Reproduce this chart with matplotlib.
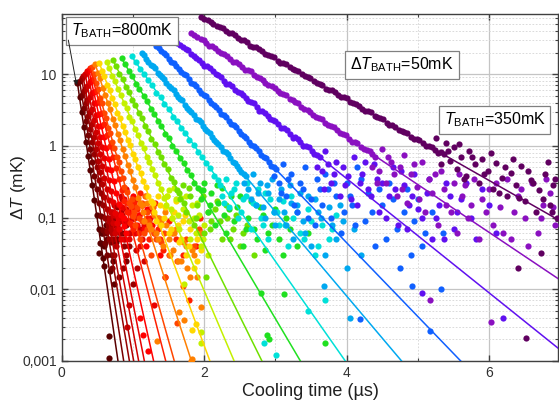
import matplotlib
matplotlib.use('Agg')
import matplotlib.pyplot as plt
from matplotlib.ticker import MultipleLocator, LogLocator, NullFormatter

plt.rcParams['font.family'] = ['Liberation Sans', 'DejaVu Sans']
plt.rcParams['mathtext.fontset'] = 'custom'
plt.rcParams['mathtext.rm'] = 'Liberation Sans'
plt.rcParams['mathtext.it'] = 'Liberation Sans:italic'

# one colour per bath temperature, hottest (dark red) to coldest (dark purple)
colors = ['#5a0000', '#780000', '#960000', '#b40000', '#d00000', '#e80000',
          '#ff0000', '#ff1e00', '#ff4600', '#ff8000', '#ffd800', '#c4f000',
          '#70e000', '#20e020', '#00e0d8', '#00a8f0', '#1060ff', '#6010f0',
          '#8a10c0', '#600060']

# measured cooling curves: time (us) and temperature excess (mK)
t_00 = [0.22, 0.25, 0.28, 0.31, 0.34, 0.37, 0.40, 0.43, 0.46, 0.49, 0.52, 0.55, 0.58,
        0.525, 0.54, 0.56, 0.60, 0.62, 0.665, 0.66, 0.70, 0.74, 0.78,
        0.57, 0.59, 0.63, 0.68, 0.72]
dT_00 = [7.6, 4.8, 2.95, 1.86, 1.15, 0.72, 0.46, 0.28, 0.178, 0.11, 0.069, 0.044, 0.027,
         0.032, 0.044, 0.06, 0.021, 0.08, 0.0022, 0.0011, 0.03, 0.012, 0.05,
         0.06, 0.04, 0.05, 0.018, 0.025]

t_01 = [0.25, 0.28, 0.31, 0.34, 0.37, 0.40, 0.43, 0.46, 0.49, 0.52, 0.55, 0.58, 0.61,
        0.64, 0.67, 0.70, 0.73, 0.76, 0.80, 0.85, 0.90,
        0.62, 0.65, 0.69, 0.72, 0.78, 0.82]
dT_01 = [8.1, 5.2, 3.4, 2.2, 1.41, 0.91, 0.59, 0.38, 0.25, 0.162, 0.105, 0.068, 0.044,
         0.03, 0.07, 0.02, 0.1, 0.045, 0.015, 0.06, 0.025,
         0.06, 0.1, 0.045, 0.08, 0.05, 0.09]

t_02 = [0.28, 0.31, 0.34, 0.37, 0.40, 0.43, 0.46, 0.49, 0.52, 0.55, 0.58, 0.61, 0.64,
        0.67, 0.70, 0.74, 0.78, 0.82, 0.86, 0.90, 0.95, 1.00,
        0.66, 0.69, 0.72, 0.76, 0.80, 0.84, 0.88]
dT_02 = [8.7, 5.8, 3.9, 2.6, 1.7, 1.12, 0.76, 0.50, 0.33, 0.22, 0.148, 0.098, 0.065,
         0.05, 0.09, 0.03, 0.14, 0.06, 0.02, 0.08, 0.04, 0.012,
         0.08, 0.12, 0.05, 0.1, 0.07, 0.11, 0.04]

t_03 = [0.30, 0.33, 0.36, 0.39, 0.42, 0.45, 0.48, 0.51, 0.54, 0.57, 0.60, 0.63, 0.66,
        0.69, 0.72, 0.76, 0.80, 0.85, 0.90, 0.95, 1.00, 1.05,
        0.68, 0.71, 0.74, 0.78, 0.83, 0.88, 0.93]
dT_03 = [9.3, 6.3, 4.3, 2.95, 2.0, 1.35, 0.91, 0.62, 0.43, 0.29, 0.195, 0.132, 0.089,
         0.07, 0.12, 0.04, 0.09, 0.18, 0.03, 0.06, 0.1, 0.02,
         0.1, 0.06, 0.15, 0.08, 0.12, 0.05, 0.09]

t_04 = [0.33, 0.36, 0.39, 0.42, 0.45, 0.48, 0.51, 0.54, 0.57, 0.60, 0.63, 0.66, 0.69, 0.72,
        0.75, 0.79, 0.83, 0.88, 0.93, 0.98, 1.04, 1.10, 1.15, 0.91, 0.95,
        0.74, 0.77, 0.81, 0.86, 0.90, 0.96, 1.01]
dT_04 = [10.0, 6.9, 4.8, 3.3, 2.3, 1.58, 1.1, 0.76, 0.52, 0.36, 0.25, 0.174, 0.12, 0.083,
         0.06, 0.11, 0.2, 0.05, 0.09, 0.15, 0.035, 0.07, 0.025, 0.003, 0.006,
         0.11, 0.07, 0.15, 0.09, 0.13, 0.06, 0.1]

t_05 = [0.36, 0.39, 0.42, 0.45, 0.48, 0.51, 0.54, 0.57, 0.60, 0.63, 0.66, 0.69, 0.72, 0.75, 0.78,
        0.81, 0.85, 0.90, 0.95, 1.00, 1.05, 1.10, 1.16, 1.22, 1.30,
        0.80, 0.83, 0.88, 0.92, 0.98, 1.03, 1.08, 1.13]
dT_05 = [11.0, 7.8, 5.5, 3.9, 2.7, 1.9, 1.35, 0.95, 0.68, 0.48, 0.33, 0.235, 0.166, 0.117, 0.083,
         0.07, 0.14, 0.25, 0.05, 0.1, 0.18, 0.04, 0.08, 0.13, 0.006,
         0.1, 0.05, 0.18, 0.09, 0.14, 0.06, 0.11, 0.05]

t_06 = [0.38, 0.415, 0.45, 0.485, 0.52, 0.555, 0.59, 0.625, 0.66, 0.695, 0.73, 0.765, 0.80,
        0.835, 0.87, 0.90, 0.95, 1.00, 1.06, 1.12, 1.18, 1.24, 1.30, 1.38, 1.45,
        1.10, 1.14, 1.21, 1.88, 1.92,
        0.88, 0.93, 0.98, 1.03, 1.09, 1.15, 1.20, 1.27]
dT_06 = [11.5, 7.9, 5.6, 3.9, 2.75, 1.9, 1.32, 0.93, 0.65, 0.46, 0.32, 0.22, 0.155,
         0.107, 0.076, 0.06, 0.12, 0.2, 0.08, 0.15, 0.04, 0.1, 0.06, 0.03, 0.015,
         0.004, 0.0023, 0.0014, 0.04, 0.065,
         0.1, 0.16, 0.08, 0.13, 0.11, 0.07, 0.13, 0.08]

t_07 = [0.40, 0.44, 0.48, 0.52, 0.56, 0.60, 0.64, 0.68, 0.72, 0.76, 0.80, 0.84, 0.88, 0.92, 0.96,
        1.00, 1.05, 1.10, 1.16, 1.22, 1.28, 1.35, 1.42, 1.50, 1.60, 1.70, 1.79, 1.94,
        0.98, 1.02, 1.08, 1.13, 1.19, 1.25, 1.31, 1.38]
dT_07 = [12.0, 8.5, 5.9, 4.2, 2.9, 2.0, 1.41, 1.0, 0.71, 0.49, 0.35, 0.24, 0.17, 0.12, 0.083,
         0.07, 0.13, 0.22, 0.09, 0.05, 0.12, 0.07, 0.035, 0.09, 0.05, 0.03, 0.007, 0.1,
         0.11, 0.16, 0.06, 0.15, 0.1, 0.07, 0.16, 0.05]

t_08 = [0.42, 0.45, 0.48, 0.51, 0.54, 0.57, 0.59, 0.62, 0.65, 0.68, 0.71, 0.74, 0.77, 0.80,
        0.83, 0.86, 0.88, 0.91, 0.94, 0.97, 1.00,
        1.03, 1.06, 1.10, 1.13, 1.17, 1.20, 1.25, 1.30, 1.35, 1.40, 1.45, 1.50, 1.55, 1.62,
        1.70, 1.75, 1.85, 1.93, 1.62,
        0.99, 1.02, 1.08, 1.12, 1.15, 1.19, 1.23, 1.28, 1.33, 1.38, 1.43]
dT_08 = [12.6, 10.2, 7.6, 6.3, 4.7, 3.9, 2.9, 2.45, 1.8, 1.52, 1.12, 0.93, 0.7, 0.6,
         0.44, 0.36, 0.27, 0.23, 0.16, 0.145, 0.105,
         0.08, 0.14, 0.05, 0.09, 0.2, 0.07, 0.03, 0.06, 0.1, 0.045, 0.015, 0.03, 0.06, 0.025,
         0.011, 0.05, 0.04, 0.07, 0.0034,
         0.18, 0.12, 0.1, 0.16, 0.06, 0.12, 0.09, 0.14, 0.05, 0.08, 0.06]

t_09 = [0.47, 0.505, 0.54, 0.575, 0.61, 0.645, 0.68, 0.715, 0.75, 0.785, 0.82, 0.855, 0.89,
        0.925, 0.96, 0.995, 1.03, 1.065, 1.10,
        1.14, 1.18, 1.22, 1.27, 1.32, 1.37, 1.42, 1.47, 1.52, 1.58, 1.63, 1.70, 1.76, 1.83,
        1.90, 1.95, 1.81, 1.83, 1.34, 1.65, 1.71, 1.96,
        1.12, 1.16, 1.20, 1.25, 1.30, 1.35, 1.40, 1.45, 1.50, 1.56, 1.60, 1.68, 1.74, 1.80, 1.86]
dT_09 = [13.8, 10.5, 8.7, 6.4, 5.2, 3.9, 3.3, 2.4, 1.95, 1.45, 1.2, 0.89, 0.73,
         0.54, 0.45, 0.33, 0.27, 0.19, 0.16,
         0.12, 0.2, 0.08, 0.14, 0.06, 0.1, 0.04, 0.08, 0.03, 0.06, 0.025, 0.045, 0.02, 0.035,
         0.015, 0.06, 0.001, 0.00105, 0.0019, 0.0048, 0.0037, 0.0056,
         0.15, 0.09, 0.16, 0.07, 0.11, 0.05, 0.09, 0.12, 0.05, 0.035, 0.07, 0.025, 0.04, 0.015, 0.03]

t_10 = [0.53, 0.566, 0.60, 0.64, 0.674, 0.71, 0.746, 0.78, 0.818, 0.854, 0.89, 0.926, 0.96,
        0.998, 1.034, 1.07, 1.106, 1.142, 1.178, 1.214, 1.25,
        1.30, 1.35, 1.40, 1.45, 1.50, 1.55, 1.60, 1.65, 1.70, 1.75, 1.80, 1.85, 1.90, 1.95,
        1.88, 1.83,
        1.28, 1.33, 1.38, 1.43, 1.48, 1.53, 1.58, 1.63, 1.68, 1.73, 1.78, 1.90]
dT_10 = [14.1, 11.0, 9.3, 7.0, 6.0, 4.6, 3.8, 2.9, 2.45, 1.9, 1.58, 1.2, 1.02,
         0.77, 0.66, 0.5, 0.42, 0.32, 0.27, 0.2, 0.17,
         0.12, 0.2, 0.08, 0.14, 0.06, 0.1, 0.17, 0.045, 0.09, 0.03, 0.07, 0.02, 0.05, 0.035,
         0.0033, 0.0027,
         0.16, 0.09, 0.15, 0.1, 0.2, 0.07, 0.12, 0.08, 0.05, 0.11, 0.04, 0.025]

t_11 = [0.63, 0.67, 0.71, 0.75, 0.79, 0.83, 0.87, 0.91, 0.95, 0.99, 1.03, 1.07, 1.11, 1.15,
        1.19, 1.23, 1.27, 1.31, 1.35, 1.39, 1.43,
        1.46, 1.50, 1.55, 1.60, 1.65, 1.70, 1.75, 1.80, 1.85, 1.90, 1.95, 1.96, 1.95, 2.00,
        2.05, 1.72,
        1.48, 1.53, 1.58, 1.63, 1.68, 1.78, 1.83, 1.88, 1.93, 1.98]
dT_11 = [14.8, 12.2, 9.3, 7.9, 6.2, 5.1, 4.0, 3.4, 2.55, 2.2, 1.7, 1.4, 1.1, 0.92,
         0.7, 0.6, 0.47, 0.39, 0.3, 0.25, 0.19,
         0.15, 0.24, 0.1, 0.18, 0.07, 0.13, 0.2, 0.05, 0.1, 0.16, 0.04, 0.0025, 0.0018, 0.08,
         0.03, 0.012,
         0.2, 0.13, 0.26, 0.11, 0.19, 0.09, 0.15, 0.06, 0.11, 0.05]

t_12 = [0.72, 0.765, 0.81, 0.855, 0.90, 0.945, 0.99, 1.035, 1.08, 1.125, 1.17, 1.215, 1.26,
        1.305, 1.35, 1.395, 1.44, 1.485, 1.53, 1.575, 1.62,
        1.66, 1.70, 1.75, 1.80, 1.85, 1.90, 1.95, 2.00, 2.05, 2.10, 2.18, 2.25, 2.32, 2.40,
        2.50, 2.60, 2.70, 2.02,
        1.64, 1.72, 1.78, 1.88, 1.98, 2.08, 2.15, 2.22, 2.30, 2.36, 2.45, 2.55]
dT_12 = [15.7, 12.8, 10.0, 8.5, 6.7, 5.6, 4.4, 3.7, 2.9, 2.45, 1.9, 1.62, 1.26,
         1.07, 0.83, 0.7, 0.55, 0.47, 0.36, 0.31, 0.24,
         0.18, 0.28, 0.12, 0.2, 0.08, 0.15, 0.24, 0.06, 0.12, 0.09, 0.17, 0.05, 0.1, 0.07,
         0.04, 0.08, 0.03, 0.015,
         0.22, 0.16, 0.26, 0.1, 0.2, 0.07, 0.13, 0.09, 0.15, 0.05, 0.11, 0.06]

t_13 = [0.84, 0.89, 0.94, 0.99, 1.04, 1.09, 1.15, 1.20, 1.25, 1.30, 1.35, 1.40, 1.45, 1.50,
        1.55, 1.60, 1.66, 1.71, 1.76, 1.81, 1.86, 1.91,
        1.95, 2.00, 2.05, 2.10, 2.15, 2.20, 2.25, 2.30, 2.35, 2.42, 2.50, 2.55, 2.62, 2.70,
        2.78, 2.85, 2.95, 3.05, 3.15, 3.30, 3.45, 2.88, 2.91, 2.79, 3.12, 3.69,
        1.98, 2.08, 2.18, 2.28, 2.38, 2.46, 2.58, 2.66, 2.74, 2.82, 2.90, 3.00, 3.10, 3.20]
dT_13 = [16.6, 13.8, 11.0, 9.3, 7.3, 6.3, 4.9, 4.2, 3.3, 2.8, 2.25, 1.9, 1.48, 1.28,
         1.0, 0.85, 0.68, 0.57, 0.46, 0.39, 0.3, 0.26,
         0.18, 0.3, 0.12, 0.22, 0.08, 0.16, 0.26, 0.06, 0.13, 0.09, 0.2, 0.04, 0.1, 0.07,
         0.14, 0.035, 0.08, 0.05, 0.1, 0.04, 0.06, 0.0023, 0.002, 0.0089, 0.0087, 0.0018,
         0.24, 0.15, 0.28, 0.11, 0.2, 0.14, 0.07, 0.17, 0.05, 0.11, 0.06, 0.13, 0.03, 0.07]

t_14 = [0.98, 1.04, 1.10, 1.15, 1.21, 1.27, 1.33, 1.39, 1.44, 1.50, 1.56, 1.62, 1.68, 1.73,
        1.79, 1.85, 1.91, 1.97, 2.02, 2.08, 2.14, 2.20,
        2.25, 2.30, 2.35, 2.42, 2.48, 2.55, 2.60, 2.65, 2.72, 2.80, 2.85, 2.90, 2.98, 3.05,
        3.10, 3.18, 3.25, 3.35, 3.45, 3.55, 3.65, 3.75, 3.85, 2.84, 3.01, 3.45, 3.69,
        2.22, 2.28, 2.38, 2.45, 2.52, 2.58, 2.68, 2.76, 2.83, 2.93, 3.02, 3.14, 3.22, 3.30,
        3.40, 3.50, 3.60, 3.80]
dT_14 = [17.8, 15.0, 11.8, 10.2, 8.2, 7.0, 5.5, 4.8, 3.8, 3.3, 2.55, 2.25, 1.75, 1.5,
         1.2, 1.04, 0.83, 0.7, 0.57, 0.49, 0.38, 0.33,
         0.2, 0.35, 0.14, 0.25, 0.1, 0.18, 0.3, 0.07, 0.15, 0.1, 0.22, 0.05, 0.12, 0.08,
         0.17, 0.04, 0.1, 0.06, 0.13, 0.03, 0.08, 0.05, 0.11, 0.0018, 0.0012, 0.005, 0.0072,
         0.28, 0.16, 0.22, 0.3, 0.12, 0.2, 0.16, 0.25, 0.08, 0.18, 0.12, 0.08, 0.2, 0.12,
         0.05, 0.09, 0.04, 0.07]

t_15 = [1.12, 1.18, 1.25, 1.31, 1.38, 1.44, 1.50, 1.57, 1.63, 1.69, 1.76, 1.82, 1.89, 1.95,
        2.01, 2.08, 2.14, 2.20, 2.27, 2.33, 2.40, 2.46, 2.52, 2.59,
        1.15, 1.215, 1.28, 1.345, 1.41, 1.47, 1.535, 1.60, 1.66, 1.725, 1.79, 1.855, 1.92,
        1.98, 2.045, 2.11, 2.17, 2.235, 2.30, 2.365, 2.43, 2.49, 2.555,
        2.62, 2.68, 2.72, 2.78, 2.85, 2.90, 2.95, 3.00, 3.05, 3.12, 3.20, 3.25, 3.30, 3.38,
        3.45, 3.50, 3.60, 3.70, 3.80, 3.90, 4.00, 3.68, 4.05,
        2.56, 2.65, 2.75, 2.82, 2.88, 2.98, 3.08, 3.15, 3.22, 3.34, 3.42, 3.55, 3.64, 3.75,
        3.85, 3.95, 4.10, 4.20]
dT_15 = [19.5, 16.5, 13.5, 12.0, 9.6, 8.5, 6.8, 6.0, 4.8, 4.3, 3.4, 3.0, 2.4, 2.15,
         1.7, 1.5, 1.2, 1.07, 0.85, 0.76, 0.6, 0.53, 0.43, 0.38,
         18.2, 14.9, 12.8, 10.5, 9.0, 7.5, 6.4, 5.3, 4.55, 3.75, 3.2, 2.66, 2.26,
         1.89, 1.61, 1.33, 1.14, 0.95, 0.81, 0.67, 0.57, 0.47, 0.4,
         0.25, 0.4, 0.15, 0.3, 0.1, 0.22, 0.35, 0.08, 0.18, 0.12, 0.28, 0.05, 0.15, 0.09,
         0.2, 0.04, 0.12, 0.03, 0.08, 0.15, 0.02, 0.011, 0.004,
         0.3, 0.18, 0.22, 0.14, 0.28, 0.12, 0.25, 0.08, 0.16, 0.22, 0.06, 0.18, 0.1, 0.14,
         0.05, 0.09, 0.07, 0.03]

t_16 = [1.33, 1.40, 1.47, 1.54, 1.61, 1.68, 1.75, 1.82, 1.89, 1.96, 2.03, 2.10, 2.17, 2.24,
        2.31, 2.38, 2.45, 2.52, 2.59, 2.66, 2.73, 2.80, 2.87, 2.94, 3.01,
        1.365, 1.435, 1.505, 1.575, 1.645, 1.715, 1.785, 1.855, 1.925, 1.995, 2.065, 2.135,
        2.205, 2.275, 2.345, 2.415, 2.485, 2.555, 2.625, 2.695, 2.765, 2.835, 2.905, 2.975,
        3.05, 3.10, 3.15, 3.22, 3.30, 3.35, 3.42, 3.50, 3.55, 3.62, 3.70, 3.78, 3.85, 3.92,
        4.00, 4.08, 4.15, 4.25, 4.30, 4.40, 4.50, 4.60, 4.70, 4.80, 4.90, 5.00, 5.10,
        4.19, 4.75, 4.91, 5.32, 5.17,
        2.98, 3.08, 3.18, 3.26, 3.38, 3.46, 3.58, 3.66, 3.74, 3.82, 3.96, 4.04, 4.12, 4.20,
        4.35, 4.45, 4.55, 4.65, 4.85, 4.95, 5.05, 5.20, 5.35]
dT_16 = [25.0, 21.0, 18.2, 14.8, 13.2, 10.7, 9.6, 7.6, 6.8, 5.4, 4.9, 4.0, 3.5, 2.8,
         2.5, 2.05, 1.82, 1.45, 1.3, 1.04, 0.94, 0.75, 0.68, 0.53, 0.48,
         23.0, 19.8, 16.4, 14.2, 11.8, 10.2, 8.5, 7.3, 6.1, 5.2, 4.4, 3.7,
         3.15, 2.68, 2.25, 1.93, 1.61, 1.38, 1.15, 0.99, 0.84, 0.71, 0.6, 0.51,
         0.3, 0.55, 0.2, 0.4, 0.12, 0.3, 0.5, 0.18, 0.08, 0.25, 0.4, 0.1, 0.2, 0.06,
         0.3, 0.15, 0.5, 0.09, 0.22, 0.04, 0.15, 0.3, 0.07, 0.12, 0.03, 0.18, 0.06,
         0.0038, 0.02, 0.011, 0.01, 0.0026,
         0.38, 0.22, 0.35, 0.15, 0.25, 0.1, 0.35, 0.15, 0.25, 0.3, 0.12, 0.2, 0.08, 0.35,
         0.12, 0.25, 0.05, 0.18, 0.25, 0.09, 0.04, 0.12, 0.06]

t_17 = [1.62, 1.70, 1.77, 1.85, 1.93, 2.00, 2.08, 2.16, 2.24, 2.31, 2.39, 2.47, 2.54, 2.62,
        2.70, 2.77, 2.85, 2.93, 3.00, 3.08, 3.16, 3.24, 3.31, 3.39, 3.47, 3.54, 3.62,
        1.66, 1.74, 1.81, 1.89, 1.97, 2.04, 2.12, 2.20, 2.28, 2.35, 2.43, 2.51, 2.58, 2.66,
        2.74, 2.81, 2.89, 2.97, 3.04, 3.12, 3.20, 3.28, 3.35, 3.43, 3.51, 3.58,
        3.65, 3.70, 3.78, 3.85, 3.90, 3.95, 4.02, 4.10, 4.15, 4.22, 4.30, 4.38, 4.45, 4.50,
        4.60, 4.65, 4.72, 4.80, 4.88, 4.95, 5.05, 5.12, 5.20, 5.30, 5.40, 5.50, 5.60, 5.75,
        5.90, 6.10, 5.05, 6.20,
        3.58, 3.68, 3.74, 3.82, 3.98, 4.06, 4.18, 4.26, 4.34, 4.42, 4.55, 4.68, 4.76, 4.84,
        4.92, 5.00, 5.16, 5.25, 5.36, 5.45, 5.55, 5.68, 5.82, 6.00]
dT_17 = [27.5, 24.0, 21.5, 18.0, 15.8, 13.2, 12.0, 10.0, 9.1, 7.4, 6.8, 5.6, 5.2, 4.2,
         3.9, 3.1, 2.9, 2.35, 2.2, 1.8, 1.65, 1.3, 1.25, 1.0, 0.95, 0.76, 0.7,
         25.3, 22.4, 19.2, 17.0, 14.3, 12.9, 10.9, 9.6, 8.1, 7.3, 6.1, 5.4, 4.65, 4.1,
         3.45, 3.1, 2.62, 2.32, 1.99, 1.76, 1.48, 1.31, 1.12, 0.99, 0.84, 0.75,
         0.45, 0.85, 0.3, 0.6, 0.2, 0.5, 0.38, 0.7, 0.15, 0.4, 0.25, 0.55, 0.12, 0.3,
         0.2, 0.5, 0.08, 0.28, 0.15, 0.4, 0.1, 0.22, 0.05, 0.15, 0.3, 0.07, 0.18, 0.1,
         0.25, 0.06, 0.009, 0.004,
         0.5, 0.25, 0.55, 0.4, 0.28, 0.18, 0.3, 0.6, 0.2, 0.35, 0.1, 0.25, 0.45, 0.07,
         0.2, 0.13, 0.35, 0.1, 0.05, 0.2, 0.12, 0.3, 0.05, 0.15]

t_18 = [1.82, 1.90, 1.99, 2.07, 2.15, 2.24, 2.32, 2.40, 2.49, 2.57, 2.65, 2.74, 2.82, 2.90,
        2.99, 3.07, 3.15, 3.24, 3.32, 3.40, 3.49, 3.57, 3.65, 3.74, 3.82, 3.90, 3.99, 4.07,
        4.15, 4.24, 4.32, 4.40,
        1.86, 1.95, 2.03, 2.11, 2.20, 2.28, 2.36, 2.45, 2.53, 2.61, 2.70, 2.78, 2.86, 2.95,
        3.03, 3.11, 3.20, 3.28, 3.36, 3.45, 3.53, 3.61, 3.70, 3.78, 3.86, 3.95, 4.03, 4.11,
        4.20, 4.28, 4.36,
        4.45, 4.50, 4.55, 4.62, 4.70, 4.75, 4.80, 4.85, 4.90, 4.98, 5.05, 5.10, 5.15, 5.20,
        5.28, 5.33, 5.40, 5.50, 5.55, 5.62, 5.70, 5.78, 5.85, 5.90, 6.00, 6.05, 6.15, 6.25,
        6.30, 6.40, 6.50, 6.60, 6.68, 6.75, 6.85, 6.92, 6.02, 5.17,
        4.36, 4.42, 4.58, 4.66, 4.78, 4.94, 5.02, 5.24, 5.36, 5.46, 5.58, 5.66, 5.74, 5.95,
        6.10, 6.20, 6.35, 6.45, 6.55, 6.72, 6.80, 6.90]
dT_18 = [37.7, 33.0, 29.5, 25.0, 23.5, 19.5, 17.8, 15.0, 14.0, 11.6, 10.9, 9.0, 8.3, 7.0,
         6.4, 5.4, 5.1, 4.3, 3.9, 3.3, 3.0, 2.5, 2.4, 1.95, 1.85, 1.5, 1.42, 1.15,
         1.1, 0.9, 0.86, 0.7,
         35.0, 31.2, 27.0, 24.5, 20.8, 18.9, 16.3, 14.6, 12.6, 11.4, 9.7, 8.8, 7.6, 6.8,
         5.85, 5.3, 4.5, 4.1, 3.5, 3.15, 2.7, 2.46, 2.1, 1.9, 1.64, 1.47, 1.26, 1.14,
         0.97, 0.88, 0.76,
         0.45, 0.9, 0.3, 0.6, 0.2, 0.5, 0.75, 0.16, 0.4, 0.27, 0.6, 0.12, 0.35, 0.22,
         0.08, 0.45, 0.15, 0.3, 0.06, 0.2, 0.1, 0.35, 0.05, 0.18, 0.25, 0.08, 0.14, 0.35,
         0.05, 0.2, 0.1, 0.3, 0.06, 0.15, 0.22, 0.08, 0.0035, 0.007,
         0.5, 0.3, 0.7, 0.4, 0.25, 0.55, 0.18, 0.4, 0.25, 0.12, 0.4, 0.28, 0.15, 0.12,
         0.3, 0.06, 0.12, 0.25, 0.04, 0.1, 0.35, 0.14]

t_19 = [1.96, 2.05, 2.13, 2.22, 2.30, 2.39, 2.47, 2.56, 2.64, 2.73, 2.81, 2.90, 2.98, 3.07,
        3.15, 3.24, 3.32, 3.41, 3.49, 3.58, 3.66, 3.75, 3.83, 3.92, 4.00, 4.09, 4.17, 4.26,
        4.34, 4.43, 4.51, 4.60, 4.68, 4.77, 4.85, 4.94, 5.02, 5.11, 5.19, 5.28, 5.36,
        2.00, 2.09, 2.18, 2.26, 2.35, 2.43, 2.52, 2.60, 2.69, 2.77, 2.86, 2.94, 3.03, 3.11,
        3.20, 3.28, 3.37, 3.45, 3.54, 3.62, 3.71, 3.79, 3.88, 3.96, 4.05, 4.13, 4.22, 4.30,
        4.39, 4.47, 4.56, 4.64, 4.73, 4.81, 4.90, 4.98, 5.07, 5.15, 5.24, 5.32,
        5.45, 5.50, 5.55, 5.60, 5.68, 5.72, 5.80, 5.85, 5.90, 5.98, 6.05, 6.10, 6.18, 6.25,
        6.30, 6.38, 6.45, 6.50, 6.58, 6.65, 6.70, 6.78, 6.85, 6.90, 6.95, 6.51, 6.40, 6.73,
        5.25, 5.40,
        5.32, 5.42, 5.58, 5.64, 5.76, 5.93, 6.02, 6.14, 6.22, 6.34, 6.42, 6.55, 6.62, 6.75,
        6.82, 6.88, 6.93]
dT_19 = [63.0, 57.0, 50.0, 46.0, 40.0, 37.0, 32.0, 30.0, 25.0, 24.0, 21.0, 18.3, 17.2, 14.5,
         13.8, 11.8, 10.9, 9.3, 8.8, 7.5, 7.1, 6.0, 5.6, 4.8, 4.6, 3.9, 3.6, 3.1,
         3.0, 2.5, 2.4, 1.95, 1.85, 1.6, 1.5, 1.25, 1.2, 1.0, 0.97, 0.8, 0.76,
         58.0, 54.0, 47.0, 43.5, 37.5, 35.0, 30.0, 27.8, 24.0, 22.5, 19.3, 17.9, 15.4, 14.4,
         12.4, 11.5, 9.9, 9.2, 7.9, 7.4, 6.3, 5.95, 5.1, 4.75, 4.1, 3.8, 3.3, 3.05,
         2.6, 2.45, 2.1, 1.97, 1.68, 1.57, 1.35, 1.26, 1.08, 1.0, 0.87, 0.81,
         0.62, 0.95, 0.48, 0.71, 0.38, 0.85, 0.55, 0.3, 0.66, 0.45, 0.25, 0.58, 0.36, 0.2,
         0.42, 0.28, 0.52, 0.17, 0.33, 0.12, 0.24, 0.4, 0.15, 0.28, 0.1, 0.0021, 0.02, 0.032,
         1.3, 1.1,
         0.55, 0.85, 1.05, 0.35, 0.7, 0.4, 0.8, 0.22, 0.5, 0.65, 0.19, 0.45, 0.3, 0.18,
         0.6, 0.12, 0.35]

series_t = [t_00, t_01, t_02, t_03, t_04, t_05, t_06, t_07, t_08, t_09,
            t_10, t_11, t_12, t_13, t_14, t_15, t_16, t_17, t_18, t_19]
series_dT = [dT_00, dT_01, dT_02, dT_03, dT_04, dT_05, dT_06, dT_07, dT_08, dT_09,
             dT_10, dT_11, dT_12, dT_13, dT_14, dT_15, dT_16, dT_17, dT_18, dT_19]

# exponential fits, given by their end points (straight on the log axis)
fit_t0 = [0.22, 0.25, 0.28, 0.30, 0.33, 0.36, 0.38, 0.40, 0.42, 0.47,
          0.53, 0.63, 0.72, 0.84, 0.98, 1.12, 1.33, 1.62, 1.82, 1.96]
fit_dT0 = [7.6, 8.1, 8.7, 9.3, 10.0, 11.0, 11.5, 12.0, 12.6, 13.8,
           14.1, 14.8, 15.7, 16.6, 17.8, 19.5, 25.0, 27.5, 37.7, 63.0]
fit_t1 = [0.79, 0.87, 0.95, 1.01, 1.08, 1.16, 1.29, 1.46, 1.58, 1.82,
          2.08, 2.42, 2.81, 3.35, 3.98, 4.77, 5.60, 6.97, 6.97, 6.97]
fit_dT1 = [0.001, 0.001, 0.001, 0.001, 0.001, 0.001, 0.001, 0.001, 0.001, 0.001,
           0.001, 0.001, 0.001, 0.001, 0.001, 0.001, 0.001, 0.0015, 0.014, 0.093]

fig = plt.figure(figsize=(5.59, 4.01), dpi=100)
ax = fig.add_axes([0.1104, 0.0998, 0.8884, 0.8653])
ax.set_yscale('log')

for i in range(len(colors)):
    ax.scatter(series_t[i], series_dT[i], s=20, color=colors[i], linewidths=0, zorder=3)
for i in range(len(colors)):
    ax.plot([fit_t0[i], fit_t1[i]], [fit_dT0[i], fit_dT1[i]], color=colors[i], lw=1.1, zorder=4)

ax.set_xlim(0, 6.97)
ax.set_ylim(0.001, 69)
ax.set_xticks([0, 2, 4, 6])
ax.set_xticklabels(['0', '2', '4', '6'])
ax.xaxis.set_minor_locator(MultipleLocator(1))
ax.set_yticks([0.001, 0.01, 0.1, 1, 10])
ax.set_yticklabels(['0,001', '0,01', '0,1', '1', '10'])
ax.yaxis.set_minor_locator(LogLocator(base=10, subs=range(2, 10)))
ax.yaxis.set_minor_formatter(NullFormatter())

ax.set_axisbelow(True)
ax.grid(which='major', color='#c4c4c4', lw=0.9)
ax.grid(which='minor', color='#d4d4d4', lw=0.6, ls=(0, (2, 2)))
ax.tick_params(which='both', direction='in', top=True, right=True, colors='#404040',
               labelcolor='#303030', labelsize=10)
ax.tick_params(which='major', length=4, width=1)
ax.tick_params(which='minor', length=2, width=0.8)
for sp in ax.spines.values():
    sp.set_color('#404040')
    sp.set_linewidth(1)

ax.set_xlabel('Cooling time (\u00b5s)', fontsize=13, color='#202020', labelpad=2)
ax.set_ylabel('\u0394$T$ (mK)', fontsize=12.5, color='#202020')
ax.yaxis.set_label_coords(-0.068, 0.5)

box = dict(boxstyle='square,pad=0.3', fc='white', ec='#808080', lw=0.9)
ax.text(0.121, 0.952, r'$T_{\mathrm{BATH}}$=800mK', transform=ax.transAxes,
        ha='center', va='center', fontsize=11.5, bbox=box, zorder=6)
ax.text(0.685, 0.853, r'$\mathit{\Delta T}_{\mathrm{BATH}}$=50mK', transform=ax.transAxes,
        ha='center', va='center', fontsize=11.5, bbox=box, zorder=6)
ax.text(0.872, 0.695, r'$T_{\mathrm{BATH}}$=350mK', transform=ax.transAxes,
        ha='center', va='center', fontsize=11.5, bbox=box, zorder=6)
ax.annotate('', xy=(0.21, 7.0), xytext=(0.093, 29.8),
            arrowprops=dict(arrowstyle='-|>', color='#202020', lw=0.7,
                            mutation_scale=7, shrinkA=0, shrinkB=0), zorder=6)

fig.savefig('out.png', dpi=100)
